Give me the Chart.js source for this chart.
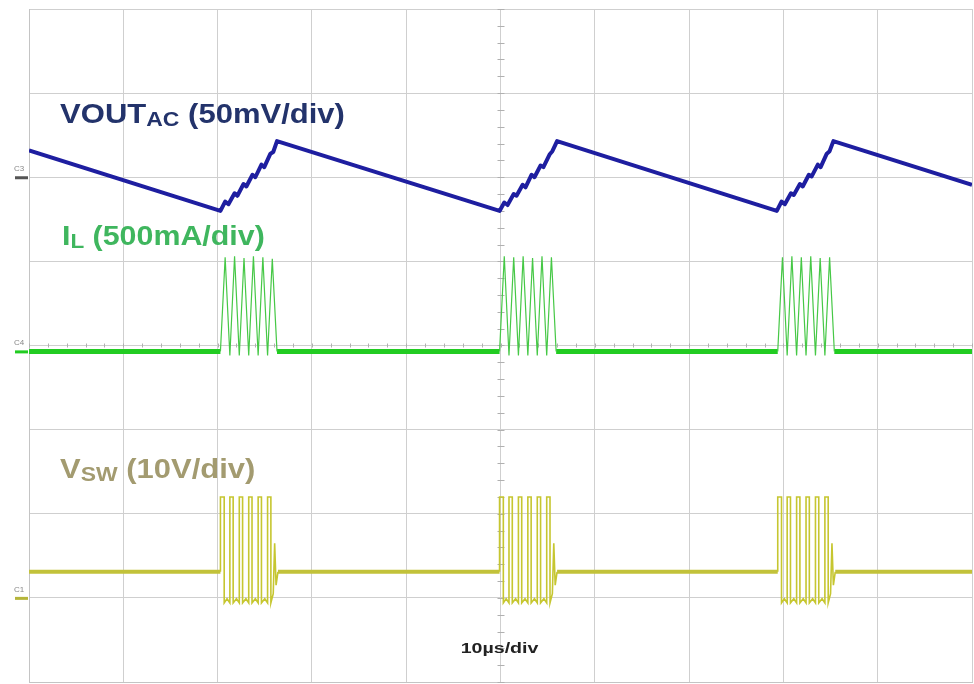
<!DOCTYPE html>
<html>
<head>
<meta charset="utf-8">
<script src="https://cdn.jsdelivr.net/npm/chart.js@4.4.1/dist/chart.umd.min.js"></script>
<style>
    html, body { margin: 0; padding: 0; background: #fff; }
    #wrap { width: 974px; height: 684px; position: relative; }
</style>
</head>
<body>
<div id="wrap"><canvas id="scope"></canvas></div>
<script>
// screen is 10 x 8 divisions, values are in divisions (0 = screen centre)
const xDivs = [0, 10];
const yDivs = [-4, 4];

// C3: VOUT ac coupled, 50mV/div
const voutTrace = [
    [0, 2.32], [2.03, 1.60],
    [2.08, 1.71], [2.115, 1.68], [2.18, 1.81], [2.21, 1.78], [2.275, 1.92], [2.305, 1.89],
    [2.37, 2.03], [2.40, 2.00], [2.465, 2.15], [2.495, 2.12], [2.56, 2.28], [2.59, 2.30], [2.63, 2.43],
    [4.99, 1.60],
    [5.04, 1.70], [5.075, 1.67], [5.14, 1.80], [5.17, 1.78], [5.235, 1.91], [5.265, 1.88],
    [5.33, 2.03], [5.36, 2.00], [5.425, 2.14], [5.455, 2.12], [5.52, 2.27], [5.55, 2.31], [5.60, 2.43],
    [7.93, 1.60],
    [7.98, 1.71], [8.015, 1.68], [8.08, 1.81], [8.11, 1.79], [8.175, 1.92], [8.205, 1.89],
    [8.27, 2.03], [8.30, 2.01], [8.365, 2.15], [8.395, 2.12], [8.46, 2.28], [8.49, 2.31], [8.53, 2.43],
    [10, 1.91]
];

// C4: inductor current, 500mA/div
const ilBaseline = [
    [0, -0.07], [2.03, -0.07], [2.3, null],
    [2.63, -0.07], [4.99, -0.07], [5.3, null],
    [5.59, -0.07], [7.94, -0.07], [8.2, null],
    [8.54, -0.07], [10, -0.07]
];
const ilBursts = [
    [2.03, -0.07], [2.08, 1.05], [2.13, -0.12], [2.18, 1.06], [2.23, -0.12], [2.28, 1.04], [2.33, -0.12],
    [2.38, 1.06], [2.43, -0.12], [2.48, 1.05], [2.53, -0.12], [2.58, 1.03], [2.63, -0.07], [3, null],
    [4.99, -0.07], [5.04, 1.06], [5.09, -0.12], [5.14, 1.05], [5.19, -0.12], [5.24, 1.06], [5.29, -0.12],
    [5.34, 1.04], [5.39, -0.12], [5.44, 1.06], [5.49, -0.12], [5.54, 1.05], [5.59, -0.07], [6, null],
    [7.94, -0.07], [7.99, 1.05], [8.04, -0.12], [8.09, 1.06], [8.14, -0.12], [8.19, 1.05], [8.24, -0.12],
    [8.29, 1.06], [8.34, -0.12], [8.39, 1.04], [8.44, -0.12], [8.49, 1.05], [8.54, -0.07]
];

// C1: switch node, 10V/div
const vswBaseline = [
    [0, -2.69], [2.03, -2.69], [2.3, null],
    [2.64, -2.69], [4.99, -2.69], [5.3, null],
    [5.60, -2.69], [7.94, -2.69], [8.2, null],
    [8.55, -2.69], [10, -2.69]
];
const vswBursts = [
    [2.03, -2.69], [2.03, -1.80], [2.07, -1.80], [2.07, -3.06], [2.10, -3.01], [2.13, -3.06],
    [2.13, -1.80], [2.165, -1.80], [2.165, -3.06], [2.20, -3.01], [2.23, -3.06],
    [2.23, -1.80], [2.265, -1.80], [2.265, -3.06], [2.30, -3.01], [2.33, -3.06],
    [2.33, -1.80], [2.365, -1.80], [2.365, -3.06], [2.40, -3.01], [2.43, -3.06],
    [2.43, -1.80], [2.465, -1.80], [2.465, -3.06], [2.50, -3.01], [2.53, -3.06],
    [2.53, -1.80], [2.565, -1.80], [2.565, -3.06], [2.59, -2.95], [2.605, -2.35], [2.62, -2.85], [2.64, -2.69],
    [3, null],
    [4.99, -2.69], [4.99, -1.80], [5.03, -1.80], [5.03, -3.06], [5.06, -3.01], [5.09, -3.06],
    [5.09, -1.80], [5.125, -1.80], [5.125, -3.06], [5.16, -3.01], [5.19, -3.06],
    [5.19, -1.80], [5.225, -1.80], [5.225, -3.06], [5.26, -3.01], [5.29, -3.06],
    [5.29, -1.80], [5.325, -1.80], [5.325, -3.06], [5.36, -3.01], [5.39, -3.06],
    [5.39, -1.80], [5.425, -1.80], [5.425, -3.06], [5.46, -3.01], [5.49, -3.06],
    [5.49, -1.80], [5.525, -1.80], [5.525, -3.06], [5.55, -2.95], [5.565, -2.35], [5.58, -2.85], [5.60, -2.69],
    [6, null],
    [7.94, -2.69], [7.94, -1.80], [7.98, -1.80], [7.98, -3.06], [8.01, -3.01], [8.04, -3.06],
    [8.04, -1.80], [8.075, -1.80], [8.075, -3.06], [8.11, -3.01], [8.14, -3.06],
    [8.14, -1.80], [8.175, -1.80], [8.175, -3.06], [8.21, -3.01], [8.24, -3.06],
    [8.24, -1.80], [8.275, -1.80], [8.275, -3.06], [8.31, -3.01], [8.34, -3.06],
    [8.34, -1.80], [8.375, -1.80], [8.375, -3.06], [8.41, -3.01], [8.44, -3.06],
    [8.44, -1.80], [8.475, -1.80], [8.475, -3.06], [8.50, -2.95], [8.515, -2.35], [8.53, -2.85], [8.55, -2.69]
];

// trace captions: [x div, baseline y div, width in divs, colour, main, subscript, rest]
const captions = [
    [0.33, 2.65, 3.02, '#23336b', 'VOUT', 'AC', ' (50mV/div)'],
    [0.35, 1.20, 2.15, '#3fb65e', 'I', 'L', ' (500mA/div)'],
    [0.33, -1.57, 2.07, '#a39b70', 'V', 'SW', ' (10V/div)']
];
const timebaseLabel = '10µs/div';
const channelMarks = [['C3', 2.0, '#555'], ['C4', -0.07, '#22cc22'], ['C1', -3.0, '#b5b53a']];

const FONT = "'Liberation Sans', Arial, sans-serif";

const scopeDecor = {
    id: 'scopeDecor',
    beforeDatasetsDraw(chart) {
        const { ctx, scales: { x, y } } = chart;
        const cx = x.getPixelForValue(5), cy = y.getPixelForValue(0);
        ctx.save();
        ctx.strokeStyle = '#b0b0b0';
        ctx.lineWidth = 1;
        ctx.beginPath();
        for (let v = -4; v <= 4.001; v += 0.2) {
            const py = Math.round(y.getPixelForValue(v)) + 0.5;
            ctx.moveTo(cx - 3, py); ctx.lineTo(cx + 4, py);
        }
        for (let v = 0; v <= 10.001; v += 0.2) {
            const px = Math.round(x.getPixelForValue(v)) + 0.5;
            ctx.moveTo(px, cy - 2); ctx.lineTo(px, cy + 2);
        }
        ctx.stroke();
        ctx.restore();
    },
    afterDraw(chart) {
        const { ctx, scales: { x, y } } = chart;
        ctx.save();
        ctx.textBaseline = 'alphabetic';
        const big = 'bold 27px ' + FONT, small = 'bold 20px ' + FONT;
        captions.forEach(([xv, yv, wDiv, color, main, sub, rest]) => {
            const px0 = x.getPixelForValue(xv);
            const py = y.getPixelForValue(yv);
            ctx.font = big;
            const w1 = ctx.measureText(main).width, w3 = ctx.measureText(rest).width;
            ctx.font = small;
            const w2 = ctx.measureText(sub).width;
            const target = x.getPixelForValue(xv + wDiv) - px0;
            const sx = target / (w1 + w2 + w3);
            ctx.save();
            ctx.translate(px0, py);
            ctx.scale(sx, 1);
            ctx.fillStyle = color;
            ctx.font = big;
            ctx.fillText(main, 0, 0);
            ctx.font = small;
            ctx.fillText(sub, w1, 3);
            ctx.font = big;
            ctx.fillText(rest, w1 + w2, 0);
            ctx.restore();
        });

        // time base, slightly stretched like the scope font
        ctx.save();
        ctx.translate(x.getPixelForValue(4.99), y.getPixelForValue(-3.66));
        ctx.scale(1.4, 1);
        ctx.fillStyle = '#222';
        ctx.font = 'bold 14px ' + FONT;
        ctx.textAlign = 'center';
        ctx.fillText(timebaseLabel, 0, 0);
        ctx.restore();

        // channel markers left of the screen
        ctx.font = '8px ' + FONT;
        ctx.textAlign = 'left';
        channelMarks.forEach(([name, yv, color]) => {
            const py = y.getPixelForValue(yv);
            ctx.fillStyle = color;
            ctx.fillRect(15, py - 1, 13, 3);
            ctx.fillStyle = '#888';
            ctx.fillText(name, 14, py - 6);
        });
        ctx.restore();
    }
};

const gridLines = {
    display: true,
    color: '#cfcfcf',
    lineWidth: 1,
    drawTicks: false
};

new Chart(document.getElementById('scope'), {
    type: 'line',
    data: {
        datasets: [
            { label: 'VOUT', data: voutTrace, borderColor: '#1e1ea0', borderWidth: 4, borderJoinStyle: 'round' },
            { label: 'IL burst', data: ilBursts, borderColor: '#46c846', borderWidth: 1.2 },
            { label: 'IL', data: ilBaseline, borderColor: '#22cc22', borderWidth: 5 },
            { label: 'VSW burst', data: vswBursts, borderColor: '#c6c630', borderWidth: 1.6 },
            { label: 'VSW', data: vswBaseline, borderColor: '#c2c23a', borderWidth: 4 }
        ]
    },
    options: {
        responsive: true,
        maintainAspectRatio: false,
        animation: false,
        events: [],
        spanGaps: false,
        elements: { point: { radius: 0 }, line: { tension: 0 } },
        layout: { padding: { left: 29, right: 2, top: 9, bottom: 2 } },
        scales: {
            x: {
                type: 'linear', min: xDivs[0], max: xDivs[1],
                ticks: { display: false, stepSize: 1 },
                grid: gridLines,
                border: { display: true, color: '#c4c4c4' }
            },
            y: {
                type: 'linear', min: yDivs[0], max: yDivs[1],
                ticks: { display: false, stepSize: 1 },
                grid: gridLines,
                border: { display: true, color: '#c4c4c4' }
            }
        },
        plugins: { legend: { display: false }, tooltip: { enabled: false } }
    },
    plugins: [scopeDecor]
});
</script>
</body>
</html>
